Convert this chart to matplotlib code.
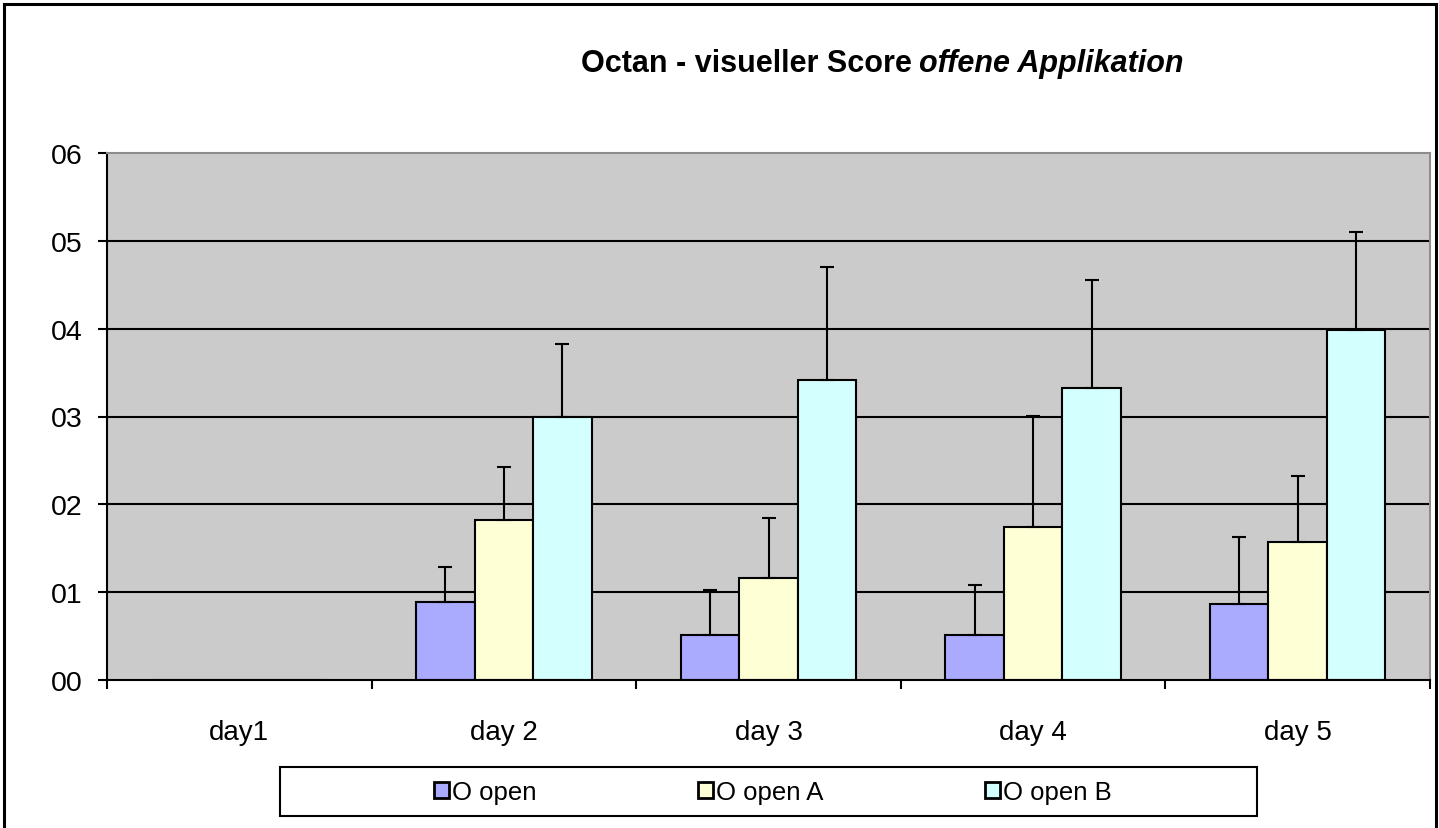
import matplotlib
matplotlib.use("Agg")
import matplotlib.pyplot as plt
from matplotlib import font_manager
import numpy as np
from matplotlib.patches import Rectangle
from matplotlib.ticker import FixedLocator, FuncFormatter

plt.rcParams['font.family'] = ['Liberation Sans', 'DejaVu Sans']

days = ["day1", "day 2", "day 3", "day 4", "day 5"]
series = ["O open", "O open A", "O open B"]

# bar heights and upward error
o_open = [0.0, 0.89, 0.51, 0.51, 0.86]
o_open_err = [0.0, 0.40, 0.51, 0.57, 0.77]
o_open_a = [0.0, 1.82, 1.16, 1.74, 1.57]
o_open_a_err = [0.0, 0.61, 0.68, 1.27, 0.75]
o_open_b = [0.0, 3.00, 3.41, 3.33, 3.99]
o_open_b_err = [0.0, 0.83, 1.29, 1.22, 1.11]

colors = ["#AAAAFF", "#FFFFD6", "#D4FFFF"]

# narrow font for the title if it is there
names = {f.name for f in font_manager.fontManager.ttflist}
if "Liberation Sans Narrow" in names:
    title_font, title_size = "Liberation Sans Narrow", 26.5
else:
    title_font, title_size = "Liberation Sans", 22

W, H = 1439, 829
fig = plt.figure(figsize=(W / 100, H / 100), dpi=100)
fig.patch.set_facecolor("white")

# plot area in pixels: x 107..1430, y 154..681
ax = fig.add_axes([107 / W, 1 - 681 / H, (1430 - 107) / W, (681 - 154) / H])
ax.set_facecolor("#CBCBCB")

x = np.arange(len(days))
bw = 0.221
handles = []
for i, (vals, errs) in enumerate([(o_open, o_open_err), (o_open_a, o_open_a_err), (o_open_b, o_open_b_err)]):
    pos = x + (i - 1) * bw
    b = ax.bar(pos, vals, bw, color=colors[i], edgecolor="black", linewidth=1.5, zorder=2)
    handles.append(b)
    errs = np.array(errs)
    m = errs > 0
    ax.errorbar(pos[m], np.array(vals)[m], yerr=[np.zeros(m.sum()), errs[m]], fmt="none",
                ecolor="black", elinewidth=1.5, capsize=5, capthick=1.5, zorder=3)

ax.set_xlim(-0.5, len(days) - 0.5)
ax.set_ylim(0, 6)

# horizontal gridlines (not at top, top border is gray)
ax.hlines([1, 2, 3, 4, 5], -0.5, len(days) - 0.5, colors="black", linewidth=1.5, zorder=1)

ax.spines["left"].set_color("black")
ax.spines["left"].set_linewidth(1.5)
ax.spines["bottom"].set_color("black")
ax.spines["bottom"].set_linewidth(1.5)
ax.spines["bottom"].set_zorder(4)
ax.spines["top"].set_color("#8C8C8C")
ax.spines["top"].set_linewidth(1.5)
ax.spines["right"].set_color("#8C8C8C")
ax.spines["right"].set_linewidth(1.5)

ax.yaxis.set_major_locator(FixedLocator(range(7)))
ax.yaxis.set_major_formatter(FuncFormatter(lambda v, p: "%02d" % int(round(v))))
ax.tick_params(axis="y", direction="out", length=6.5, width=1.5, pad=11, labelsize=20.5)

ax.xaxis.set_major_locator(FixedLocator(np.arange(-0.5, len(days), 1.0)))
ax.xaxis.set_major_formatter(FuncFormatter(lambda v, p: ""))
ax.xaxis.set_minor_locator(FixedLocator(x))
ax.set_xticklabels(days, minor=True)
ax.tick_params(axis="x", which="major", direction="out", length=6.5, width=1.5)
ax.tick_params(axis="x", which="minor", length=0, pad=28, labelsize=20)

# title: bold part + bold italic part
ty = 1 - 72 / H
t1 = fig.text(581 / W, ty, "Octan - visueller Score", family=title_font, weight="bold",
              size=title_size, ha="left", va="baseline")
fig.canvas.draw()
bb = t1.get_window_extent(renderer=fig.canvas.get_renderer())
fig.text((bb.x1 + 7) / W, ty, "offene Applikation", family=title_font, weight="bold",
         style="italic", size=title_size, ha="left", va="baseline")

# legend with its own frame
leg = fig.legend(handles, series, loc="center", bbox_to_anchor=(773 / W, 1 - 793 / H),
                 ncol=3, frameon=False, fontsize=18.5, handlelength=0.58, handleheight=0.58,
                 handletextpad=0.12, columnspacing=6.3)
for p in leg.get_patches():
    p.set_linewidth(2)
fig.add_artist(Rectangle((280 / W, 1 - 817 / H), (1257 - 280) / W, (817 - 768) / H,
                         transform=fig.transFigure, fill=False, edgecolor="black", linewidth=1.5))

# outer chart border (bottom edge outside the picture)
fig.add_artist(Rectangle((4 / W, -0.05), (1436 - 4) / W, 1.05 - 5 / H,
                         transform=fig.transFigure, fill=False, edgecolor="black", linewidth=2.2))

fig.savefig("out.png", dpi=100)
